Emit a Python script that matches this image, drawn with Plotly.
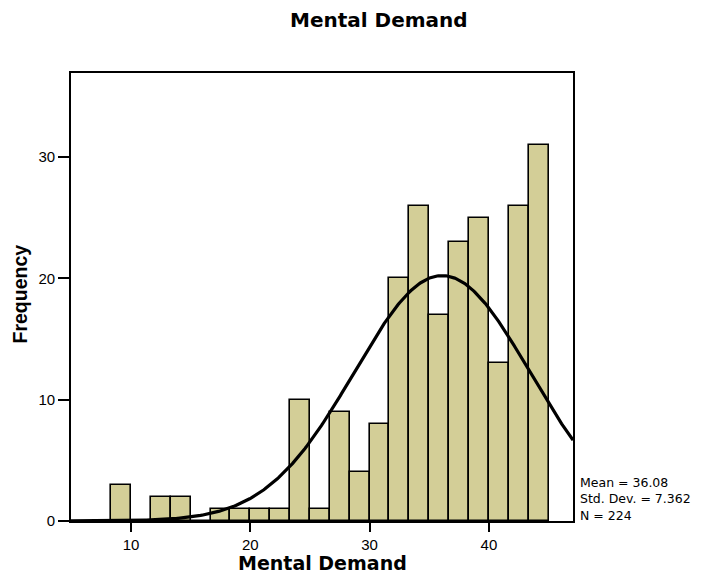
import numpy as np
import plotly.graph_objects as go

# Histogram of Mental Demand scores (bin width 5/3, first bin starts at 25/3)
bin_start = 25 / 3
bin_width = 5 / 3
counts = [3, 0, 2, 2, 0, 1, 1, 1, 1, 10, 1, 9, 4, 8, 20, 26, 17, 23, 25, 13, 26, 31]

# Summary statistics shown beside the chart
mean_val = 36.08
std_val = 7.362
n_val = 224

x_ticks = [10, 20, 30, 40]
y_ticks = [0, 10, 20, 30]

centers = [bin_start + bin_width * (i + 0.5) for i in range(len(counts))]

# Normal curve scaled to the histogram (count per bin)
xc = np.linspace(4.97, 47.05, 400)
yc = n_val * bin_width / (std_val * np.sqrt(2 * np.pi)) * np.exp(-0.5 * ((xc - mean_val) / std_val) ** 2)

W, H = 706, 576
ml, mr, mt, mb = 71, 133, 73, 55
pw, ph = W - ml - mr, H - mt - mb

fig = go.Figure()
fig.add_trace(go.Bar(
    x=centers, y=counts, width=bin_width,
    marker=dict(color="#d3ce97", line=dict(color="black", width=1.6)),
    hoverinfo="x+y",
))
fig.add_trace(go.Scatter(
    x=xc, y=yc, mode="lines",
    line=dict(color="black", width=3.2),
    hoverinfo="skip",
))

axis_font = dict(family="Liberation Sans, Arial, sans-serif", size=15, color="black")

fig.update_layout(
    width=W, height=H,
    margin=dict(l=ml, r=mr, t=mt, b=mb),
    paper_bgcolor="white", plot_bgcolor="white",
    showlegend=False,
    bargap=0,
    xaxis=dict(
        range=[4.97, 47.05], tickvals=x_ticks, ticktext=[str(v) for v in x_ticks],
        ticks="outside", ticklen=9, tickwidth=1.6, tickcolor="black",
        showline=True, linecolor="black", linewidth=1.8, mirror=True,
        showgrid=False, zeroline=False, tickfont=axis_font,
    ),
    yaxis=dict(
        range=[0, 36.93], tickvals=y_ticks, ticktext=[str(v) for v in y_ticks],
        ticks="outside", ticklen=11, tickwidth=1.6, tickcolor="black",
        showline=True, linecolor="black", linewidth=1.8, mirror=True,
        showgrid=False, zeroline=False, tickfont=axis_font,
    ),
)


def px_to_paper(px, py):
    """Convert container pixel coordinates to plot-area paper coordinates."""
    return (px - ml) / pw, (H - mb - py) / ph


titles = [
    dict(text="<b>Mental Demand</b>", pos=(379, 19.7), angle=0,
         font=dict(family="DejaVu Sans, sans-serif", size=20, color="black")),
    dict(text="<b>Mental Demand</b>", pos=(322, 562.5), angle=0,
         font=dict(family="DejaVu Sans, sans-serif", size=19, color="black")),
    dict(text="<b>Frequency</b>", pos=(19.5, 294), angle=-90,
         font=dict(family="Liberation Sans, Arial, sans-serif", size=19.5, color="black")),
]
for t in titles:
    x, y = px_to_paper(*t["pos"])
    fig.add_annotation(text=t["text"], xref="paper", yref="paper", x=x, y=y,
                       xanchor="center", yanchor="middle", textangle=t["angle"],
                       showarrow=False, font=t["font"])

# Statistics block, one annotation with line breaks
stats_lines = [f"Mean = {mean_val:.2f}", f"Std. Dev. = {std_val:.3f}", f"N = {n_val}"]
sx, sy = px_to_paper(578.5, 499)
fig.add_annotation(
    text="<br>".join(stats_lines), xref="paper", yref="paper", x=sx, y=sy,
    xanchor="left", yanchor="middle", align="left", showarrow=False,
    borderpad=0,
    font=dict(family="DejaVu Sans, sans-serif", size=12.5, color="black"),
)

fig.write_html("out.html")
